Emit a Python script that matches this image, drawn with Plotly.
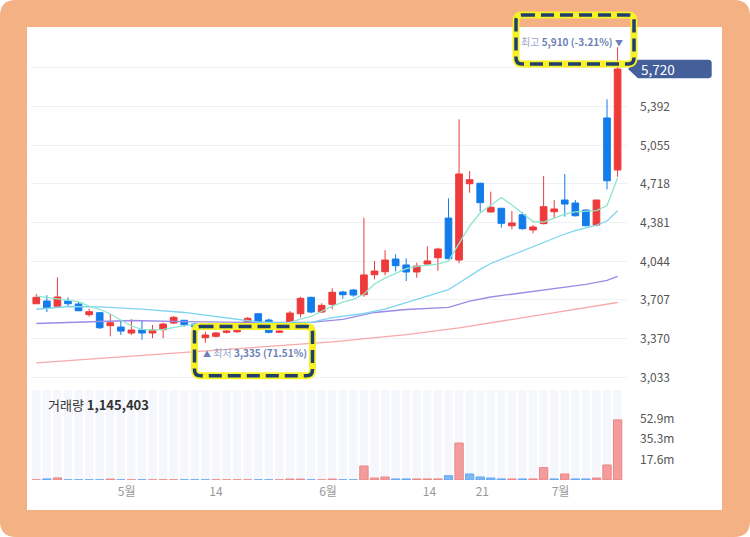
import plotly.graph_objects as go

# 일봉 OHLC
open_ = [3674, 3698, 3652, 3698, 3672, 3579, 3596, 3483, 3471, 3419,
         3445, 3419, 3448, 3506, 3530, 3497, 3378, 3390, 3425, 3430,
         3497, 3587, 3532, 3425, 3504, 3587, 3730, 3602, 3669, 3776,
         3794, 3753, 3927, 3953, 4064, 4012, 3951, 4020, 4075, 4421,
         4055, 4720, 4724, 4474, 4506, 4354, 4450, 4317, 4372, 4476,
         4578, 4552, 4491, 4360, 5293, 4840]
high = [3759, 3748, 3905, 3730, 3689, 3628, 3600, 3587, 3532, 3538,
        3524, 3489, 3509, 3567, 3530, 3505, 3430, 3430, 3445, 3450,
        3558, 3590, 3545, 3440, 3611, 3735, 3735, 3678, 3809, 3788,
        3803, 4424, 4047, 4142, 4105, 4070, 4032, 4175, 4162, 4593,
        5281, 4831, 4730, 4651, 4510, 4482, 4474, 4360, 4787, 4578,
        4805, 4578, 4495, 4580, 5456, 5910]
low = [3674, 3602, 3640, 3648, 3610, 3561, 3454, 3390, 3402, 3402,
       3361, 3373, 3373, 3497, 3474, 3465, 3335, 3380, 3415, 3420,
       3490, 3500, 3415, 3418, 3489, 3556, 3591, 3595, 3626, 3718,
       3735, 3735, 3887, 3922, 3957, 3872, 3901, 4012, 3962, 4060,
       4027, 4642, 4476, 4470, 4337, 4323, 4320, 4288, 4366, 4419,
       4433, 4435, 4350, 4350, 4671, 4781]
close = [3730, 3640, 3733, 3674, 3613, 3605, 3465, 3509, 3436, 3445,
         3419, 3445, 3497, 3556, 3491, 3474, 3402, 3419, 3436, 3441,
         3547, 3515, 3425, 3436, 3593, 3721, 3602, 3660, 3774, 3753,
         3750, 3925, 3959, 4055, 4006, 3951, 4003, 4047, 4151, 4067,
         4805, 4755, 4555, 4515, 4375, 4378, 4328, 4343, 4520, 4500,
         4543, 4441, 4354, 4578, 4746, 5720]

# 거래량 (m)
volume = [0.1, 0.9, 1.8, 0.1, 0.1, 0.1, 0.1, 0.8, 0.1, 0.1,
          0.1, 0.1, 0.1, 0.1, 0.1, 0.1, 0.1, 0.1, 0.1, 0.1,
          0.1, 0.1, 0.1, 0.1, 0.8, 0.8, 0.1, 0.1, 0.8, 0.1,
          0.1, 12.1, 1.7, 2.6, 0.9, 0.9, 0.9, 0.9, 0.9, 3.7,
          32.0, 5.2, 2.6, 1.7, 0.9, 0.9, 0.9, 0.9, 10.7, 0.9,
          5.2, 0.9, 0.9, 1.7, 13.0, 52.0]

# 이동평균선
ma5 = [3741, 3728, 3720, 3707, 3692, 3654, 3625, 3585, 3532, 3480,
       3450, 3445, 3450, 3467, 3484, 3493, 3487, 3476, 3465, 3470,
       3480, 3490, 3495, 3497, 3511, 3541, 3563, 3606, 3654, 3689,
       3713, 3759, 3846, 3898, 3938, 3981, 3999, 4012, 4020, 4047,
       4203, 4352, 4465, 4535, 4600, 4535, 4465, 4391, 4386, 4421,
       4456, 4474, 4478, 4485, 4530, 4770]
ma20_idx = [0, 3, 6, 10, 14, 18, 21, 24, 26, 28, 29, 31, 33, 35, 37, 39,
            40, 41, 42, 43, 45, 47, 48, 50, 51, 52, 53, 54, 55]
ma20 = [3626, 3650, 3646, 3628, 3598, 3550, 3515, 3504, 3511, 3554, 3567,
        3589, 3628, 3685, 3742, 3798, 3855, 3916, 3974, 4025, 4099, 4169,
        4204, 4282, 4311, 4334, 4360, 4395, 4485]
ma60_idx = [0, 5, 9, 14, 20, 26, 29, 32, 35, 39, 41, 43, 48, 52, 54, 55]
ma60 = [3502, 3519, 3528, 3519, 3511, 3511, 3537, 3598, 3624, 3643,
        3698, 3733, 3794, 3842, 3877, 3913]
ma120_idx = [0, 10, 20, 28, 35, 40, 48, 55]
ma120 = [3158, 3224, 3290, 3342, 3405, 3464, 3581, 3685]

price_ticks = [3033, 3370, 3707, 4044, 4381, 4718, 5055, 5392, 5729]
vol_ticks = [17.6, 35.3, 52.9]
date_ticks = [8.55, 17.0, 27.6, 37.2, 42.2, 49.6]
date_labels = ["5월", "14", "6월", "14", "21", "7월"]
cur_volume = 1145403

RED = "#ee3a3a"
BLUE = "#137ceb"
FONT = "Noto Sans CJK KR, Noto Sans, sans-serif"

n = len(close)
idx = list(range(n))
vol_top = 77.9

# 전일 종가 대비로 거래량 색
vol_colors = [RED] + [RED if close[i] >= close[i - 1] else BLUE for i in range(1, n)]
vol_fill = ["#f39c9c" if c == RED else "#7db9f6" for c in vol_colors]
vol_line = ["#ea8585" if c == RED else "#62a6ef" for c in vol_colors]

# 픽셀 -> paper 좌표
L, T, W, H = 31, 27, 596, 453
PX = 8.715  # 가격 / 픽셀


def X(p):
    return (p - L) / W


def Y(p):
    return (T + H - p) / H


def rrect(x0, y0, x1, y1, r):
    return (f"M {X(x0 + r)},{Y(y0)} L {X(x1 - r)},{Y(y0)} Q {X(x1)},{Y(y0)} {X(x1)},{Y(y0 + r)} "
            f"L {X(x1)},{Y(y1 - r)} Q {X(x1)},{Y(y1)} {X(x1 - r)},{Y(y1)} "
            f"L {X(x0 + r)},{Y(y1)} Q {X(x0)},{Y(y1)} {X(x0)},{Y(y1 - r)} "
            f"L {X(x0)},{Y(y0 + r)} Q {X(x0)},{Y(y0)} {X(x0 + r)},{Y(y0)} Z")


fig = go.Figure()

fig.add_trace(go.Bar(x=idx, y=[vol_top] * n, xaxis="x2", yaxis="y2", width=0.79,
                     marker=dict(color="#f5f7fc", line=dict(width=0)), hoverinfo="skip"))
fig.add_trace(go.Bar(x=idx, y=volume, xaxis="x2", yaxis="y2", width=0.79,
                     marker=dict(color=vol_fill, line=dict(color=vol_line, width=1)),
                     hoverinfo="skip"))

fig.add_trace(go.Scatter(x=ma120_idx, y=ma120, mode="lines", line=dict(color="#f8a9a9", width=1.3)))
fig.add_trace(go.Scatter(x=ma60_idx, y=ma60, mode="lines", line=dict(color="#9b8be6", width=1.3)))
fig.add_trace(go.Scatter(x=ma20_idx, y=ma20, mode="lines", line=dict(color="#7fd4ef", width=1.3)))
fig.add_trace(go.Scatter(x=idx, y=ma5, mode="lines", line=dict(color="#8ee6cf", width=1.3)))

fig.add_trace(go.Candlestick(
    x=idx, open=open_, high=high, low=low, close=close,
    increasing=dict(line=dict(color=RED, width=1), fillcolor=RED),
    decreasing=dict(line=dict(color=BLUE, width=1), fillcolor=BLUE),
    whiskerwidth=0, hoverinfo="skip"))

hi = max(high)
hi_i = high.index(hi)
lo = min(low)
lo_i = low.index(lo)
last = close[-1]

top_txt = (f"<span style='color:#98a4c9'>최고</span> <b>{hi:,} ({(last / hi - 1) * 100:.2f}%)</b> "
           f"<span style='font-size:8px'>▼</span>")
bot_txt = (f"<span style='font-size:8px'>▲</span> <span style='color:#98a4c9'>최저</span> "
           f"<b>{lo:,} ({(last / lo - 1) * 100:.2f}%)</b>")

tag_h = 9.2 * PX
shapes = [
    dict(type="path", xref="paper", yref="paper", layer="below",
         path=rrect(0, 0, 750, 537, 16), fillcolor="#f4b183", line=dict(width=0)),
    dict(type="rect", xref="paper", yref="paper", layer="below",
         x0=X(27), x1=X(722), y0=Y(510), y1=Y(27), fillcolor="white", line=dict(width=0)),
    dict(type="path", xref="paper", yref="y", layer="above",
         path=(f"M {X(628)},{last} L {X(638)},{last + tag_h} L {X(708)},{last + tag_h} "
               f"Q {X(711.7)},{last + tag_h} {X(711.7)},{last + tag_h - 3 * PX} "
               f"L {X(711.7)},{last - tag_h + 3 * PX} Q {X(711.7)},{last - tag_h} {X(708)},{last - tag_h} "
               f"L {X(638)},{last - tag_h} Z"),
         fillcolor="#455f9b", line=dict(width=0)),
]
for bx in [(516, 15, 634, 64), (194.5, 326.5, 312.5, 375.8)]:
    p = rrect(*bx, 6)
    shapes.append(dict(type="path", xref="paper", yref="paper", layer="above", path=p,
                       line=dict(color="#f7f225", width=7)))
    shapes.append(dict(type="path", xref="paper", yref="paper", layer="above", path=p,
                       line=dict(color="#213f6d", width=3.5, dash="13px,6px")))

annotations = [
    dict(x=hi_i, y=hi, xref="x", yref="y", text=top_txt, showarrow=False,
         xanchor="right", yanchor="middle", xshift=7, yshift=6,
         font=dict(family=FONT, size=10, color="#6d7fb6")),
    dict(x=lo_i, y=lo, xref="x", yref="y", text=bot_txt, showarrow=False,
         xanchor="left", yanchor="middle", xshift=-4, yshift=-10,
         font=dict(family=FONT, size=10, color="#6d7fb6")),
    dict(x=X(46), y=Y(404), xref="paper", yref="paper", text=f"거래량 <b>{cur_volume:,}</b>",
         showarrow=False, xanchor="left", yanchor="middle",
         font=dict(family=FONT, size=13, color="#333333")),
    dict(x=X(639), y=last, xref="paper", yref="y", text=f"{last:,}", showarrow=False,
         xanchor="left", yanchor="middle", font=dict(family=FONT, size=13.5, color="white")),
]

fig.update_layout(
    width=750, height=537,
    margin=dict(l=L, r=750 - L - W, t=T, b=537 - T - H),
    paper_bgcolor="white", plot_bgcolor="rgba(0,0,0,0)",
    showlegend=False, barmode="overlay", boxgap=0.37, boxgroupgap=0,
    font=dict(family=FONT, size=12, color="#555555"),
    shapes=shapes, annotations=annotations,
    xaxis=dict(domain=[0, 1], range=[-0.5, 55.89], anchor="y", showticklabels=False,
               showgrid=False, zeroline=False, rangeslider=dict(visible=False)),
    xaxis2=dict(domain=[0, 1], range=[-0.5, 55.89], anchor="y2", showgrid=False,
                zeroline=False, tickvals=date_ticks, ticktext=date_labels,
                tickfont=dict(size=12, color="#999999"), ticklabelstandoff=3),
    yaxis=dict(domain=[95 / H, 1], range=[2966, 6086], side="right", anchor="x",
               tickvals=price_ticks,
               ticktext=[f"{v:,}" for v in price_ticks[:-1]] + [""],
               gridcolor="#eef1f5", gridwidth=1, zeroline=False,
               tickfont=dict(size=12, color="#555555"), ticklabelstandoff=12),
    yaxis2=dict(domain=[0, 90 / H], range=[0, vol_top], side="right", anchor="x2",
                tickvals=vol_ticks, ticktext=[f"{v}m" for v in vol_ticks],
                showgrid=False, zeroline=False,
                tickfont=dict(size=12, color="#555555"), ticklabelstandoff=12),
)

# 페이지 기본 여백 제거, 모드바 숨김
fig.write_html("out.html", config={"displayModeBar": False},
               post_script="document.body.style.margin='0';")
